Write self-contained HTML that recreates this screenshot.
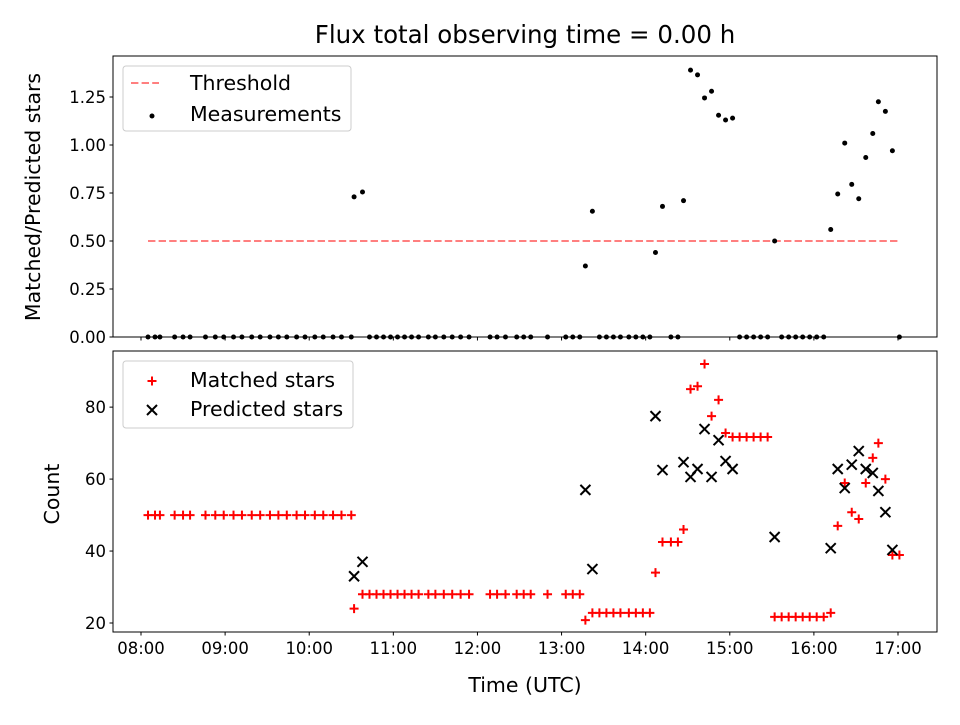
<!DOCTYPE html>
<html><head><meta charset="utf-8"><style>
html,body{margin:0;padding:0;background:#fff}
svg text{font-family:"DejaVu Sans","Liberation Sans",sans-serif;fill:#000}
</style></head><body>
<svg id="chart" width="960" height="720" xmlns="http://www.w3.org/2000/svg">
<rect width="960" height="720" fill="#fff"/>
<text x="525" y="43" font-size="24.5" text-anchor="middle">Flux total observing time = 0.00 h</text>
<g id="topPanel"></g>
<g id="botPanel"></g>
<text transform="translate(40,197) rotate(-90)" font-size="20.5" text-anchor="middle">Matched/Predicted stars</text>
<text transform="translate(59,494) rotate(-90)" font-size="20.5" text-anchor="middle">Count</text>
<text x="525" y="692" font-size="20.5" text-anchor="middle">Time (UTC)</text>
</svg>
<script>
// minutes after 08:00
const times = [5,10,13.5,24,30,35,46,53,59,66,72,79,85,92,98,104,111,117,124,130,137,143,150,152,158,163,168,173,178,183,188,193,198,205,210,216,222,228,234,249,254,260,268,273,278,290,303,308,313,317,322,327,332,337,342,348,353,358,363,367,372,378,383,387,392,397,402,407,412,417,422,427,432,437,442,447,452,457,462,467,472,477,482,487,492,497,502,507,512,517,522,526,531,536,541];
const matched = [50,50,50,50,50,50,50,50,50,50,50,50,50,50,50,50,50,50,50,50,50,50,50,24,28,28,28,28,28,28,28,28,28,28,28,28,28,28,28,28,28,28,28,28,28,28,28,28,28,20.8,22.8,22.8,22.8,22.8,22.8,22.8,22.8,22.8,22.8,34,42.5,42.5,42.5,46,85,85.8,92,77.5,82,72.8,71.7,71.7,71.7,71.7,71.7,71.7,21.7,21.7,21.7,21.7,21.7,21.7,21.7,21.7,22.8,47,58.9,50.8,48.9,58.9,65.9,70,60,38.9,38.9];
const predTimes = [152,158,317,322,367,372,387,392,397,402,407,412,417,422,452,492,497,502,507,512,517,522,526,531,536];
const predicted = [33,37,57,35,77.5,62.5,64.7,60.6,62.8,73.9,60.6,70.8,65,62.8,43.9,40.8,62.8,57.5,64,67.8,62.8,61.7,56.7,50.8,40.3];
const ratios = [0.73,0.755,0.37,0.655,0.44,0.68,0.71,1.39,1.365,1.245,1.28,1.155,1.13,1.14,0.5,0.56,0.745,1.01,0.795,0.72,0.935,1.06,1.225,1.175,0.97];
const hourLabels = ["08:00","09:00","10:00","11:00","12:00","13:00","14:00","15:00","16:00","17:00"];
const topTicks = [0,0.25,0.5,0.75,1.0,1.25];
const botTicks = [20,40,60,80];
const threshold = 0.5;

const NS="http://www.w3.org/2000/svg";
const L=113,R=937;
const FS=16.5;
const X=m=>141+m*(757/540);
const TP={t:56,b:337,min:0,max:1.4635};
const BP={t:351,b:632,min:17.5,max:95.6};
const Y=(p,v)=>p.b-(v-p.min)/(p.max-p.min)*(p.b-p.t);
function el(tag,a,parent){const e=document.createElementNS(NS,tag);for(const k in a)e.setAttribute(k,a[k]);parent.appendChild(e);return e;}
const topG=document.getElementById('topPanel'),botG=document.getElementById('botPanel');

function axes(g,p,ticks,fmt,labelsX,prefix){
  ticks.forEach(v=>{const y=Y(p,v);
    const t=el('line',{x1:L-3.5,x2:L,y1:y,y2:y,stroke:'#000','stroke-width':1},g);
    
    
    const tx=el('text',{x:L-7,y:y+6,'font-size':FS,'text-anchor':'end'},g);tx.textContent=fmt(v);
    
    
  });
  hourLabels.forEach((h,i)=>{const x=X(i*60);
    const t=el('line',{x1:x,x2:x,y1:p.b,y2:p.b+3.5,stroke:'#000','stroke-width':1},g);
    
    
    if(labelsX){const tx=el('text',{x:x,y:p.b+22,'font-size':FS,'text-anchor':'middle'},g);tx.textContent=h;
      
      }
  });
}
function frame(g,p,prefix){const f=el('rect',{x:L,y:p.t,width:R-L,height:p.b-p.t,fill:'none',stroke:'#000','stroke-width':1},g);
  
  }

// top panel
axes(topG,TP,topTicks,v=>v.toFixed(2),false,'ratio');
const th=el('line',{x1:X(times[0]),x2:X(times[times.length-1]),y1:Y(TP,threshold),y2:Y(TP,threshold),stroke:'#ff0000','stroke-opacity':0.5,'stroke-width':2,'stroke-dasharray':'7.4,3.2'},topG);


times.forEach(t=>{ if(predTimes.indexOf(t)<0){
  const c=el('circle',{cx:X(t),cy:Y(TP,0),r:2.5,fill:'#000'},topG);
  
  }});
predTimes.forEach((t,i)=>{const c=el('circle',{cx:X(t),cy:Y(TP,ratios[i]),r:2.5,fill:'#000'},topG);
  
  });
frame(topG,TP,'ratio');

// bottom panel
axes(botG,BP,botTicks,v=>String(v),true,'count');
function plus(g,x,y,s){return el('path',{d:`M${x-s},${y}H${x+s}M${x},${y-s}V${y+s}`,stroke:'#ff0000','stroke-width':2,fill:'none'},g);}
function cross(g,x,y,s){return el('path',{d:`M${x-s},${y-s}L${x+s},${y+s}M${x-s},${y+s}L${x+s},${y-s}`,stroke:'#000','stroke-width':2,fill:'none'},g);}
times.forEach((t,i)=>{const p=plus(botG,X(t),Y(BP,matched[i]),4.5);
  
  });
predTimes.forEach((t,i)=>{const p=cross(botG,X(t),Y(BP,predicted[i]),5);
  
  });
frame(botG,BP,'count');

// legends
function legendBox(g,x,y,w,h,name){const r=el('rect',{x:x,y:y,width:w,height:h,rx:3,fill:'#fff','fill-opacity':0.8,stroke:'#ccc','stroke-width':1},g);
  
  }
function ltext(g,x,y,s,name){const t=el('text',{x:x,y:y,'font-size':20.5},g);t.textContent=s;
  
  }
legendBox(topG,123,66,228,65,'ratio-legend');
const ll=el('line',{x1:131,x2:159,y1:83,y2:83,stroke:'#ff0000','stroke-opacity':0.5,'stroke-width':2,'stroke-dasharray':'7.4,3.2'},topG);


ltext(topG,190,90,'Threshold','legend-threshold-label');
const ld=el('circle',{cx:152,cy:116,r:2.5,fill:'#000'},topG);


ltext(topG,190,121,'Measurements','legend-measurement-label');

legendBox(botG,123,361,230,67,'count-legend');
const lp=plus(botG,152,381,4.5);


ltext(botG,190,387,'Matched stars','legend-matched-label');
const lc=cross(botG,152,410,5);


ltext(botG,190,416,'Predicted stars','legend-predicted-label');
</script>
</body></html>
